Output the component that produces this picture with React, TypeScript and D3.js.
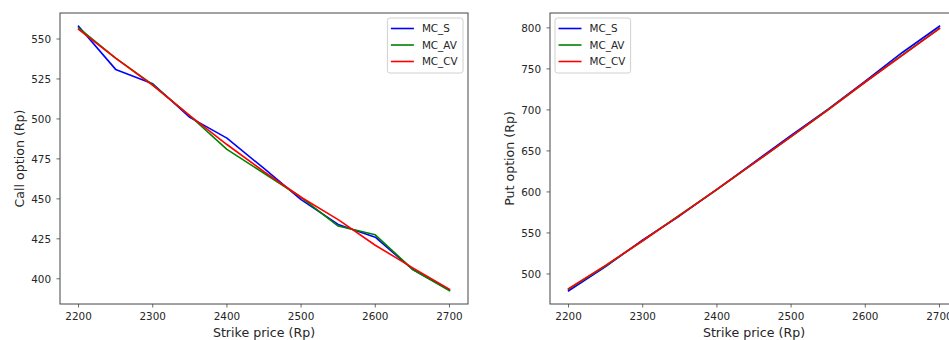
import React from "react";
import * as d3 from "d3";

const strikes = [2200, 2250, 2300, 2350, 2400, 2450, 2500, 2550, 2600, 2650, 2700];

const callMCS = [558, 531, 522, 501, 488, 469, 449.5, 434, 426, 406, 393];
const callMCAV = [557, 538, 521.5, 502, 481, 466, 451, 433, 427.5, 406, 392.5];
const callMCCV = [556, 538, 521, 502, 484, 467, 451, 437, 421, 407, 393.5];

const putMCS = [479.5, 509, 541.5, 571, 603, 636, 669, 701, 735, 770, 802];
const putMCAV = [481.5, 510, 540.5, 572, 603, 635, 667.5, 700.5, 734, 767, 799.5];
const putMCCV = [482, 510.5, 540.5, 571.5, 603, 635, 667.5, 700, 734, 766.5, 799];

const seriesNames = ["MC_S", "MC_AV", "MC_CV"];
const seriesColors = ["#0000ff", "#008000", "#ff0000"];

const callTicks = [400, 425, 450, 475, 500, 525, 550];
const putTicks = [500, 550, 600, 650, 700, 750, 800];
const xTicks = [2200, 2300, 2400, 2500, 2600, 2700];

const FONT = "DejaVu Sans, sans-serif";

type PanelProps = {
  left: number;
  width: number;
  series: number[][];
  yTicks: number[];
  yLabel: string;
  yLabelX: number;
  legendLeft: boolean;
};

function Panel({ left, width, series, yTicks, yLabel, yLabelX, legendLeft }: PanelProps) {
  const top = 13;
  const bottom = 304;
  const xMin = d3.min(strikes)!;
  const xMax = d3.max(strikes)!;
  const xPad = (xMax - xMin) * 0.05;
  const x = d3.scaleLinear().domain([xMin - xPad, xMax + xPad]).range([left, left + width]);
  const all = series.flat();
  const yMin = d3.min(all)!;
  const yMax = d3.max(all)!;
  const yPad = (yMax - yMin) * 0.05;
  const y = d3.scaleLinear().domain([yMin - yPad, yMax + yPad]).range([bottom, top]);
  const line = d3
    .line<number>()
    .x((_, i) => x(strikes[i]))
    .y((d) => y(d));

  const legW = 75.6;
  const legH = 55;
  const legX = legendLeft ? left + 5 : left + width - 5 - legW;
  const legY = top + 5;
  const rows = [10.5, 27, 43.5];

  return (
    <g>
      {series.map((s, i) => (
        <path
          key={i}
          d={line(s) || ""}
          fill="none"
          stroke={seriesColors[i]}
          strokeWidth={1.6}
          strokeLinejoin="round"
          strokeLinecap="square"
        />
      ))}
      <rect
        x={left}
        y={top}
        width={width}
        height={bottom - top}
        fill="none"
        stroke="#444"
        strokeWidth={1}
      />
      {xTicks.map((t) => (
        <g key={t}>
          <line x1={x(t)} x2={x(t)} y1={bottom} y2={bottom + 3.5} stroke="#444" strokeWidth={0.8} />
          <text x={x(t)} y={319.5} textAnchor="middle" fontFamily={FONT} fontSize={10.4} fill="#262626">
            {t}
          </text>
        </g>
      ))}
      {yTicks.map((t) => (
        <g key={t}>
          <line x1={left - 3.5} x2={left} y1={y(t)} y2={y(t)} stroke="#444" strokeWidth={0.8} />
          <text
            x={left - 9}
            y={y(t)}
            dy="0.36em"
            textAnchor="end"
            fontFamily={FONT}
            fontSize={10.4}
            fill="#262626"
          >
            {t}
          </text>
        </g>
      ))}
      <text
        x={left + width / 2}
        y={337}
        textAnchor="middle"
        fontFamily={FONT}
        fontSize={12.6}
        fill="#262626"
      >
        Strike price (Rp)
      </text>
      <text
        transform={`translate(${yLabelX},${(top + bottom) / 2}) rotate(-90)`}
        textAnchor="middle"
        dy="0.35em"
        fontFamily={FONT}
        fontSize={12.6}
        fill="#262626"
      >
        {yLabel}
      </text>
      <g>
        <rect
          x={legX}
          y={legY}
          width={legW}
          height={legH}
          rx={2.5}
          fill="#fff"
          fillOpacity={0.8}
          stroke="#d0d0d0"
          strokeWidth={1}
        />
        {seriesNames.map((n, i) => (
          <g key={n}>
            <line
              x1={legX + 3.5}
              x2={legX + 26.5}
              y1={legY + rows[i]}
              y2={legY + rows[i]}
              stroke={seriesColors[i]}
              strokeWidth={1.6}
            />
            <text
              x={legX + 34.5}
              y={legY + rows[i]}
              dy="0.36em"
              fontFamily={FONT}
              fontSize={10.4}
              fill="#262626"
            >
              {n}
            </text>
          </g>
        ))}
      </g>
    </g>
  );
}

export default function App() {
  return (
    <svg
      width={949}
      height={340}
      style={{ position: "absolute", left: 0, top: 0, background: "#fff" }}
    >
      <rect x={0} y={0} width={949} height={340} fill="#fff" />
      <Panel
        left={60}
        width={408}
        series={[callMCS, callMCAV, callMCCV]}
        yTicks={callTicks}
        yLabel="Call option (Rp)"
        yLabelX={19.5}
        legendLeft={false}
      />
      <Panel
        left={550}
        width={408}
        series={[putMCS, putMCAV, putMCCV]}
        yTicks={putTicks}
        yLabel="Put option (Rp)"
        yLabelX={510}
        legendLeft={true}
      />
    </svg>
  );
}
